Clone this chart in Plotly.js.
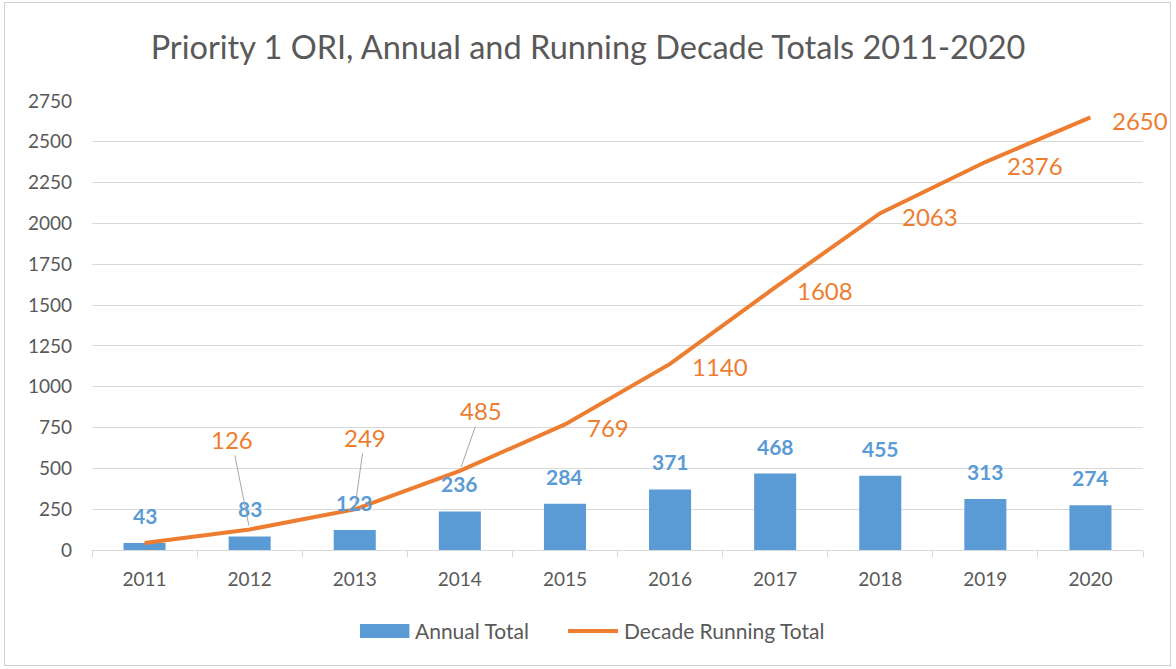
<!DOCTYPE html>
<html>
<head>
<meta charset="utf-8">
<script src="https://cdn.plot.ly/plotly-3.0.1.min.js"></script>
<style>
html,body{margin:0;padding:0;background:#fff;}
#chart{width:1176px;height:669px;}
#frame{position:absolute;left:4px;top:2px;width:1165px;height:662px;border:1px solid #d0d0d0;pointer-events:none;}
</style>
</head>
<body>
<div id="chart"></div>
<div id="frame"></div>
<script>
const years = ['2011','2012','2013','2014','2015','2016','2017','2018','2019','2020'];
const annualTotal = [43, 83, 123, 236, 284, 371, 468, 455, 313, 274];
const runningTotal = [43, 126, 249, 485, 769, 1140, 1608, 2063, 2376, 2650];
const yTicks = [0,250,500,750,1000,1250,1500,1750,2000,2250,2500,2750];
const seriesNames = ['Annual Total', 'Decade Running Total'];

const FONT = 'Lato, "Noto Sans", sans-serif';
const BLUE = '#5b9bd5', ORANGE = '#ed7d31', GREY = '#595959', GRID = '#d9d9d9';

const traces = [
  {type:'bar', name:seriesNames[0], x:years, y:annualTotal, width:0.4,
   marker:{color:BLUE}, showlegend:false},
  {type:'scatter', mode:'lines', name:seriesNames[1], x:years, y:runningTotal,
   line:{color:ORANGE, width:4}, showlegend:false}
];

const annotations = [];
// bar labels (x given as category index)
years.forEach((yr,i)=>{
  annotations.push({x:i, y:annualTotal[i], xref:'x', yref:'y', text:String(annualTotal[i]),
    showarrow:false, yanchor:'bottom', yshift:13,
    font:{family:FONT, size:21, color:BLUE, weight:'bold'}});
});
// line labels (skip first point)
const leader = {'2012':[-18,-90], '2013':[10,-72], '2014':[21,-60]};
years.forEach((yr,i)=>{
  if(i===0) return;
  const base = {x:i, y:runningTotal[i], xref:'x', yref:'y', text:String(runningTotal[i]),
    font:{family:FONT, size:24, color:ORANGE}};
  if(leader[yr]){
    annotations.push(Object.assign(base, {showarrow:true, arrowhead:0, arrowwidth:1,
      arrowcolor:'#a6a6a6', ax:leader[yr][0], ay:leader[yr][1], standoff:4}));
  } else {
    annotations.push(Object.assign(base, {showarrow:false, xanchor:'left', yanchor:'middle',
      xshift:20, yshift:-3}));
  }
});
// custom legend
const legFont = {family:FONT, size:21, color:GREY};
annotations.push({xref:'paper', yref:'paper', x:0.3054, y:-0.180, xanchor:'left', yanchor:'middle',
  text:seriesNames[0], showarrow:false, font:legFont});
annotations.push({xref:'paper', yref:'paper', x:0.5043, y:-0.180, xanchor:'left', yanchor:'middle',
  text:seriesNames[1], showarrow:false, font:legFont});
const shapes = [
  {type:'rect', xref:'paper', yref:'paper', x0:0.255, x1:0.302, y0:-0.196, y1:-0.1648,
   fillcolor:BLUE, line:{width:0}},
  {type:'line', xref:'paper', yref:'paper', x0:0.4529, x1:0.5005, y0:-0.1804, y1:-0.1804,
   line:{color:ORANGE, width:4}}
];

const layout = {
  width:1176, height:669,
  margin:{l:92, r:33, t:101, b:119},
  paper_bgcolor:'#fff', plot_bgcolor:'#fff',
  font:{family:FONT, color:GREY, size:16},
  title:{text:'Priority 1 ORI, Annual and Running Decade Totals 2011-2020',
    font:{family:FONT, size:32.5, color:GREY}, x:0.5, xanchor:'center',
    y:1-48/669, yanchor:'middle', yref:'container'},
  xaxis:{type:'category', range:[-0.5, 9.5], showgrid:false, showline:true, linecolor:GRID, linewidth:1,
    ticks:'outside', tickson:'boundaries', ticklen:6, tickcolor:GRID,
    tickfont:{family:FONT, size:19, color:GREY}, ticklabelstandoff:12, zeroline:false, fixedrange:true},
  yaxis:{range:[0,2750], tickvals:yTicks, showgrid:true, gridcolor:GRID, gridwidth:1,
    showline:false, zeroline:false, ticks:'', tickfont:{family:FONT, size:19, color:GREY},
    ticklabelstandoff:19, fixedrange:true},
  showlegend:false,
  bargap:0.6,
  annotations:annotations,
  shapes:shapes
};

Plotly.newPlot('chart', traces, layout, {displayModeBar:false, staticPlot:true});
</script>
</body>
</html>
